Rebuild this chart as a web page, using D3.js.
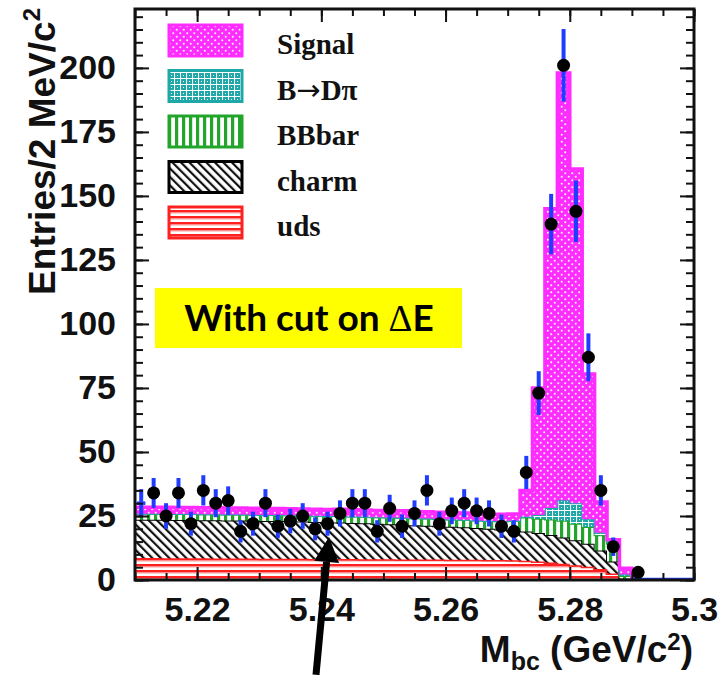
<html>
<head>
<script src="https://d3js.org/d3.v7.min.js"></script>
<style>
  body { margin: 0; background: #fff; }
  .tick text { font-family: "Liberation Sans", Arial, sans-serif; font-weight: bold; font-size: 34px; fill: #111; }
  .legend text { font-family: "Liberation Serif", "Times New Roman", serif; font-weight: bold; font-size: 29px; fill: #111; }
  .title { font-family: "Liberation Sans", Arial, sans-serif; font-weight: bold; font-size: 37px; fill: #111; }
</style>
</head>
<body>
<div id="chart"></div>
<script>
// 2 MeV bins from 5.21 to 5.30 GeV/c^2
var binStart = 5.21, binWidth = 0.002, nBins = 45;

// stacked components (entries per bin)
var udsVals = [8.6,8.6,8.5,8.5,8.5,8.5,8.4,8.4,8.4,8.4, 8.3,8.3,8.3,8.3,8.2,8.2,8.2,8.2,8.1,8.1,
               8.1,8.0,8.0,8.0,8.0,7.9,7.9,7.9,7.8,7.8, 7.7,7.5,7.2,6.8,6.3,5.8,5.2,4.3,2.5,0.4, 0,0,0,0,0];
var charmVals = [14.9,14.9,15.0,14.9,14.9,14.8,14.9,14.8,14.8,14.7, 14.7,14.7,14.6,14.5,14.5,14.4,14.3,14.1,14.1,13.9,
                 13.7,13.6,13.4,13.2,13.0,12.9,12.7,12.4,12.2,11.9, 11.6,11.4,11.2,10.8,10.3,9.7,9.0,7.2,4.7,0.2, 0,0,0,0,0];
var bbbarVals = [2.4,2.4,2.4,2.4,2.4,2.4,2.4,2.4,2.4,2.4, 2.4,2.4,2.4,2.4,2.4,2.4,2.5,2.5,2.5,2.5,
                 2.6,2.7,2.7,2.8,2.8,2.8,2.9,2.9,3.0,3.2, 3.8,5.5,5.5,6.0,6.5,6.5,6.5,6.0,7.0,1.0, 0,0,0,0,0];
var bdpiVals = [0,0,0,0,0,0,0,0,0,0, 0,0,0,0,0,0,0,0,0,0,
                0,0,0,0,0,0,0,0,0,0, 0,0.3,1.5,4.5,8.0,8.0,3.0,1.0,1.0,0.5, 0,0,0,0,0];
var signalVals = [2.5,2.5,2.5,2.5,2.5,2.5,2.5,2.5,2.5,2.5, 2.5,2.5,2.5,2.5,2.5,2.5,2.6,2.6,2.6,2.6,
                  2.7,2.7,2.7,2.7,2.7,2.7,2.7,2.7,2.7,2.8, 2.7,10.3,49.6,116.9,166.9,130.5,56.8,12.0,0.5,2.5, 0,0,0,0,0];
// data points (null = empty bin)
var dataVals = [30,34,25,34,22,35,30,31,19,22, 30,21,23,25,20,22,26,30,30,19,
                28,21,26,35,22,27,30,27,26,21, 19,42,73,139,201,144,87,35,13,null, 3,null,null,null,null];

var keys = ["uds", "charm", "bbbar", "bdpi", "signal"];
var legendKeys = ["signal", "bdpi", "bbbar", "charm", "uds"];
var colors = {uds: "#ff2020", charm: "#000000", bbbar: "#22a52a", bdpi: "#1fa8a8", signal: "#ff2cff"};

var xTicks = [5.22, 5.24, 5.26, 5.28, 5.30];
var yTicks = [0, 25, 50, 75, 100, 125, 150, 175, 200];

var W = 718, H = 675;
var plotL = 135, plotR = 694, plotT = 9, plotB = 580;

var x = d3.scaleLinear().domain([5.21, 5.30]).range([plotL, plotR]);
var y = d3.scaleLinear().domain([0, 223]).range([plotB, plotT]);

var svg = d3.select("#chart").append("svg")
    .attr("width", W).attr("height", H);
svg.append("rect").attr("width", W).attr("height", H).attr("fill", "#fff");

// ---------- fill patterns (ROOT style) ----------
var defs = svg.append("defs");
function pattern(id, w, h) {
    return defs.append("pattern").attr("id", id)
        .attr("patternUnits", "userSpaceOnUse").attr("width", w).attr("height", h);
}
var p = pattern("p-signal", 7, 7);
p.append("rect").attr("width", 7).attr("height", 7).attr("fill", colors.signal);
p.append("path").attr("d", "M0.8,1.75H2.7M1.75,0.8V2.7M4.3,5.25H6.2M5.25,4.3V6.2")
    .attr("stroke", "#fff").attr("stroke-width", 1);

p = pattern("p-bdpi", 6, 6);
p.append("rect").attr("width", 6).attr("height", 6).attr("fill", colors.bdpi);
p.append("path").attr("d", "M0,0.5H6M0.5,0V6").attr("stroke", "#fff").attr("stroke-width", 1.1);
p.append("rect").attr("x", 3).attr("y", 3).attr("width", 1).attr("height", 1).attr("fill", "#fff");

p = pattern("p-bbbar", 7, 7);
p.append("rect").attr("width", 7).attr("height", 7).attr("fill", "#fff");
p.append("rect").attr("width", 3.2).attr("height", 7).attr("fill", colors.bbbar);

p = pattern("p-charm", 6, 6).attr("patternTransform", "rotate(-45)");
p.append("rect").attr("width", 6).attr("height", 6).attr("fill", "#fff");
p.append("rect").attr("width", 2.2).attr("height", 6).attr("fill", "#111");

p = pattern("p-uds", 6, 6);
p.append("rect").attr("width", 6).attr("height", 6).attr("fill", "#fff");
p.append("rect").attr("width", 6).attr("height", 2.6).attr("fill", colors.uds);
p.append("rect").attr("y", 2.6).attr("width", 6).attr("height", 1).attr("fill", "#ffb0b0");

// ---------- stacked histogram ----------
var table = d3.range(nBins).map(function (i) {
    return {lo: binStart + i * binWidth, uds: udsVals[i], charm: charmVals[i],
            bbbar: bbbarVals[i], bdpi: bdpiVals[i], signal: signalVals[i]};
});
var series = d3.stack().keys(keys)(table);

var g = svg.append("g");
series.forEach(function (s) {
    // add closing point at the upper edge of the last bin
    var pts = s.map(function (d) { return {lo: d.data.lo, y0: d[0], y1: d[1]}; });
    var last = pts[pts.length - 1];
    pts.push({lo: last.lo + binWidth, y0: last.y0, y1: last.y1});

    var area = d3.area().curve(d3.curveStepAfter)
        .x(function (d) { return x(d.lo); })
        .y0(function (d) { return y(d.y0); })
        .y1(function (d) { return y(d.y1); });
    var topLine = d3.line().curve(d3.curveStepAfter)
        .x(function (d) { return x(d.lo); })
        .y(function (d) { return y(d.y1); });

    g.append("path").datum(pts).attr("d", area).attr("fill", "url(#p-" + s.key + ")");
    g.append("path").datum(pts.filter(function (d) { return d.lo < 5.2905; }))
        .attr("d", topLine).attr("fill", "none")
        .attr("stroke", colors[s.key])
        .attr("stroke-width", s.key === "signal" ? 3.5 : (s.key === "uds" ? 3 : 2));
});

// empty tail of the data drawn on zero
g.append("line")
    .attr("x1", x(5.2898)).attr("x2", x(5.30))
    .attr("y1", y(0) - 1).attr("y2", y(0) - 1)
    .attr("stroke", "#2040ff").attr("stroke-width", 2.5);

// ---------- data points ----------
var pts = dataVals.map(function (v, i) { return {i: i, c: binStart + (i + 0.5) * binWidth, v: v}; })
    .filter(function (d) { return d.v !== null; });
var dg = svg.append("g");
dg.selectAll("line.err").data(pts).enter().append("line")
    .attr("x1", function (d) { return x(d.c); })
    .attr("x2", function (d) { return x(d.c); })
    .attr("y1", function (d) { return y(d.v + Math.sqrt(d.v)); })
    .attr("y2", function (d) { return y(Math.max(0, d.v - Math.sqrt(d.v))); })
    .attr("stroke", "#1f3cff").attr("stroke-width", 4);
// first bin sits on the frame: only its blue cross shows
dg.append("line")
    .attr("x1", x(binStart) + 2).attr("x2", x(binStart + binWidth) - 2)
    .attr("y1", y(pts[0].v)).attr("y2", y(pts[0].v))
    .attr("stroke", "#1f3cff").attr("stroke-width", 3.5);
dg.selectAll("circle").data(pts.slice(1)).enter().append("circle")
    .attr("cx", function (d) { return x(d.c); })
    .attr("cy", function (d) { return y(d.v); })
    .attr("r", 6.5).attr("fill", "#000");

// ---------- frame and axes ----------
var minorX = d3.range(0, 19).map(function (i) { return 5.21 + i * 0.005; });
var minorY = d3.range(0, 45).map(function (i) { return i * 5; });

svg.append("g").attr("transform", "translate(0," + plotB + ")")
    .call(d3.axisBottom(x).tickValues(minorX).tickSize(-7).tickFormat(""));
svg.append("g").attr("transform", "translate(0," + plotB + ")")
    .call(d3.axisBottom(x).tickValues(xTicks).tickSize(-13).tickPadding(17)
        .tickFormat(function (d) { return d === 5.3 ? "5.3" : d3.format(".2f")(d); }));
svg.append("g").attr("transform", "translate(0," + plotT + ")")
    .call(d3.axisTop(x).tickValues(minorX).tickSize(-7).tickFormat(""));
svg.append("g").attr("transform", "translate(0," + plotT + ")")
    .call(d3.axisTop(x).tickValues(xTicks).tickSize(-13).tickFormat(""));

svg.append("g").attr("transform", "translate(" + plotL + ",0)")
    .call(d3.axisLeft(y).tickValues(minorY).tickSize(-8).tickFormat(""));
svg.append("g").attr("transform", "translate(" + plotL + ",0)")
    .call(d3.axisLeft(y).tickValues(yTicks).tickSize(-14).tickPadding(19));
svg.append("g").attr("transform", "translate(" + plotR + ",0)")
    .call(d3.axisRight(y).tickValues(minorY).tickSize(-8).tickFormat(""));
svg.append("g").attr("transform", "translate(" + plotR + ",0)")
    .call(d3.axisRight(y).tickValues(yTicks).tickSize(-14).tickFormat(""));

svg.selectAll(".domain").remove();
svg.selectAll(".tick line").attr("stroke", "#111").attr("stroke-width", 2);

svg.append("rect").attr("x", plotL).attr("y", plotT)
    .attr("width", plotR - plotL).attr("height", plotB - plotT)
    .attr("fill", "none").attr("stroke", "#111").attr("stroke-width", 3);

// axis titles
var yt = svg.append("text").attr("class", "title")
    .attr("transform", "translate(55,8) rotate(-90)")
    .attr("text-anchor", "end");
yt.append("tspan").text("Entries/2 MeV/c");
yt.append("tspan").attr("dy", -15).style("font-size", "24px").text("2");

var xt = svg.append("text").attr("class", "title")
    .attr("x", 693).attr("y", 662).attr("text-anchor", "end");
xt.append("tspan").text("M");
xt.append("tspan").attr("dy", 8).style("font-size", "25px").text("bc");
xt.append("tspan").attr("dy", -8).text(" (GeV/c");
xt.append("tspan").attr("dy", -12).style("font-size", "24px").text("2");
xt.append("tspan").attr("dy", 12).text(")");

// ---------- legend ----------
var lg = svg.append("g").attr("class", "legend");
legendKeys.forEach(function (k, i) {
    var yy = 25 + i * 45.5;
    lg.append("rect").attr("x", 169).attr("y", yy).attr("width", 73).attr("height", 31)
        .attr("fill", "url(#p-" + k + ")").attr("stroke", colors[k]).attr("stroke-width", 3);
    var t = lg.append("text").attr("x", 277).attr("y", yy + 29);
    if (k === "bdpi") {
        t.append("tspan").text("B");
        t.append("tspan").style("font-family", "'DejaVu Sans', sans-serif").style("font-weight", "normal")
            .text("\u2192");
        t.append("tspan").text("D\u03c0");
    } else {
        t.text({signal: "Signal", bbbar: "BBbar", charm: "charm", uds: "uds"}[k]);
    }
});

// ---------- annotation ----------
svg.append("rect").attr("x", 155).attr("y", 288).attr("width", 307).attr("height", 60)
    .attr("fill", "#ffff00");
var ann = svg.append("text").attr("x", 309).attr("y", 331).attr("text-anchor", "middle")
    .style("font-family", "Lato, 'Open Sans', sans-serif").style("font-weight", "bold")
    .style("font-size", "37px");
ann.append("tspan").text("With cut on ");
ann.append("tspan").style("font-family", "'Liberation Serif', serif").style("font-weight", "normal")
    .text("\u0394");
ann.append("tspan").text("E");

// arrow pointing at the 5.24 region
var tail = [x(5.23914), y(-37)], tip = [x(5.24123), y(16.8)];
var ang = Math.atan2(tip[1] - tail[1], tip[0] - tail[0]);
var headLen = 25, headW = 12.5;
var base = [tip[0] - headLen * Math.cos(ang), tip[1] - headLen * Math.sin(ang)];
svg.append("line").attr("x1", tail[0]).attr("y1", tail[1]).attr("x2", base[0]).attr("y2", base[1])
    .attr("stroke", "#000").attr("stroke-width", 7);
svg.append("polygon").attr("fill", "#000").attr("points", [
    tip,
    [base[0] + headW * Math.sin(ang), base[1] - headW * Math.cos(ang)],
    [base[0] - headW * Math.sin(ang), base[1] + headW * Math.cos(ang)]
].map(function (p) { return p.join(","); }).join(" "));
</script>
</body>
</html>
